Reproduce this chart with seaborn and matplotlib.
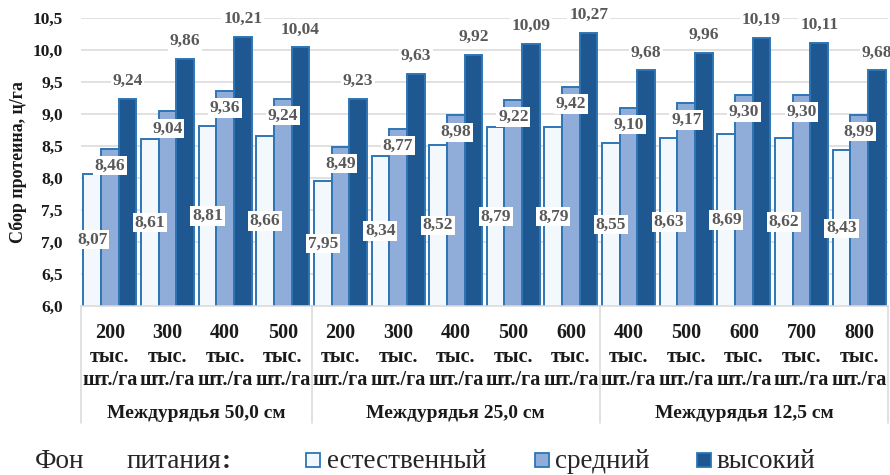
import matplotlib
matplotlib.use("Agg")
import matplotlib.pyplot as plt
import matplotlib.transforms as mtransforms
from matplotlib.patches import Rectangle
from matplotlib.lines import Line2D
from matplotlib.ticker import FuncFormatter, MultipleLocator
import numpy as np
import pandas as pd
import seaborn as sns

# Protein yield, c/ha, by row spacing, plant density and fertility level
spacings = ["Междурядья 50,0 см", "Междурядья 25,0 см", "Междурядья 12,5 см"]
densities = [
    [200, 300, 400, 500],
    [200, 300, 400, 500, 600],
    [400, 500, 600, 700, 800],
]
levels = ["естественный", "средний", "высокий"]
natural = [8.07, 8.61, 8.81, 8.66, 7.95, 8.34, 8.52, 8.79, 8.79, 8.55, 8.63, 8.69, 8.62, 8.43]
medium = [8.46, 9.04, 9.36, 9.24, 8.49, 8.77, 8.98, 9.22, 9.42, 9.10, 9.17, 9.30, 9.30, 8.99]
high = [9.24, 9.86, 10.21, 10.04, 9.23, 9.63, 9.92, 10.09, 10.27, 9.68, 9.96, 10.19, 10.11, 9.68]
y_label = "Сбор протеина, ц/га"

fill_colors = ["#f3f8fd", "#8fadd8", "#1f5791"]
edge_color = "#2e75b6"
grid_color = "#d9d9d9"
value_color = "#595959"

sns.set_theme(style="white")
plt.rcParams["font.family"] = ["Liberation Serif", "DejaVu Serif"]

# long table for seaborn
cat_keys = []
tick_texts = []
for dens in densities:
    for d in dens:
        cat_keys.append(f"c{len(cat_keys)}")
        tick_texts.append(f"{d}\nтыс.\nшт./га")
series = [natural, medium, high]
rows = []
for lvl, vals in zip(levels, series):
    for k, v in zip(cat_keys, vals):
        rows.append({"cat": k, "level": lvl, "value": v})
df = pd.DataFrame(rows)

fig = plt.figure(figsize=(8.9, 4.75), dpi=100)
ax = fig.add_axes([81 / 890, 1 - 306 / 475, (888 - 81) / 890, (306 - 18) / 475])

sns.barplot(
    data=df, x="cat", y="value", hue="level",
    order=cat_keys, hue_order=levels, palette=fill_colors,
    width=0.92, edgecolor=edge_color, linewidth=1.4,
    saturation=1, legend=False, ax=ax,
)

ax.set_ylim(6.0, 10.5)
ax.set_xlim(-0.5, len(cat_keys) - 0.5)
ax.yaxis.set_major_locator(MultipleLocator(0.5))
ax.yaxis.set_major_formatter(FuncFormatter(lambda v, p: f"{v:.1f}".replace(".", ",")))
ax.set_axisbelow(True)
ax.grid(axis="y", color=grid_color, linewidth=1.1)
ax.grid(axis="x", visible=False)
for s in ("left", "top", "right"):
    ax.spines[s].set_visible(False)
ax.spines["bottom"].set_color(grid_color)
ax.spines["bottom"].set_linewidth(1.1)
ax.tick_params(axis="y", length=0, pad=13, labelsize=12.5, labelcolor="#1a1a1a")
ax.tick_params(axis="x", length=0, pad=12, labelsize=14.5, labelcolor="#1a1a1a")
for t in ax.get_yticklabels():
    t.set_fontweight("bold")
ax.set_xticks(range(len(cat_keys)))
ax.set_xticklabels(tick_texts, fontweight="bold", linespacing=1.26)
ax.set_xlabel("")
ax.set_ylabel(y_label, fontsize=13, fontweight="bold", labelpad=4, color="#1a1a1a")

# value labels: centred in the first bar, inside end of the second, above the third
offsets = [None, -17, 18]
for i, (cont, vals) in enumerate(zip(ax.containers, series)):
    for bar, v in zip(cont.patches, vals):
        x = bar.get_x() + bar.get_width() / 2
        txt = f"{v:.2f}".replace(".", ",")
        box = dict(boxstyle="square,pad=0.1", facecolor="white", edgecolor="none")
        if offsets[i] is None:
            ax.annotate(txt, xy=(x, (6.0 + v) / 2), ha="center", va="center",
                        fontsize=12.5, fontweight="bold", color=value_color, bbox=box, zorder=5)
        else:
            ax.annotate(txt, xy=(x, v), xytext=(0, offsets[i]), textcoords="offset pixels",
                        ha="center", va="center", fontsize=12.5, fontweight="bold",
                        color=value_color, bbox=box, zorder=5)

# group separators and row-spacing captions below the axis
trans = mtransforms.blended_transform_factory(ax.transData, ax.transAxes)
start = 0
bounds = [-0.5]
for name, dens in zip(spacings, densities):
    end = start + len(dens)
    bounds.append(end - 0.5)
    ax.text((start + end - 1) / 2, -0.372, name, transform=trans, ha="center", va="center",
            fontsize=14, fontweight="bold", color="#1a1a1a")
    start = end
for b in bounds:
    ax.add_line(Line2D([b, b], [0, -0.405], transform=trans, color=grid_color,
                       linewidth=1.1, clip_on=False))

# fertility-level legend along the bottom
W, H = 890, 475
fig.text(35 / W, 1 - 461 / H, "Фон", fontsize=19.5, ha="left", va="center", color="#262626")
fig.text(127 / W, 1 - 461 / H, "питания", fontsize=19.5, ha="left", va="center", color="#262626")
fig.text(222 / W, 1 - 461 / H, ":", fontsize=19.5, ha="left", va="center", color="#262626",
         fontweight="bold")
items = [(306, 327), (535, 555), (697, 717)]
for (mx, tx), lvl, fc in zip(items, levels, fill_colors):
    fig.patches.append(Rectangle((mx / W, 1 - 467 / H), 14 / W, 14 / H, transform=fig.transFigure,
                                 facecolor=fc, edgecolor=edge_color, linewidth=1.3))
    fig.text(tx / W, 1 - 461 / H, lvl, fontsize=19.5, ha="left", va="center", color="#262626")

fig.savefig("out.png", dpi=100)
